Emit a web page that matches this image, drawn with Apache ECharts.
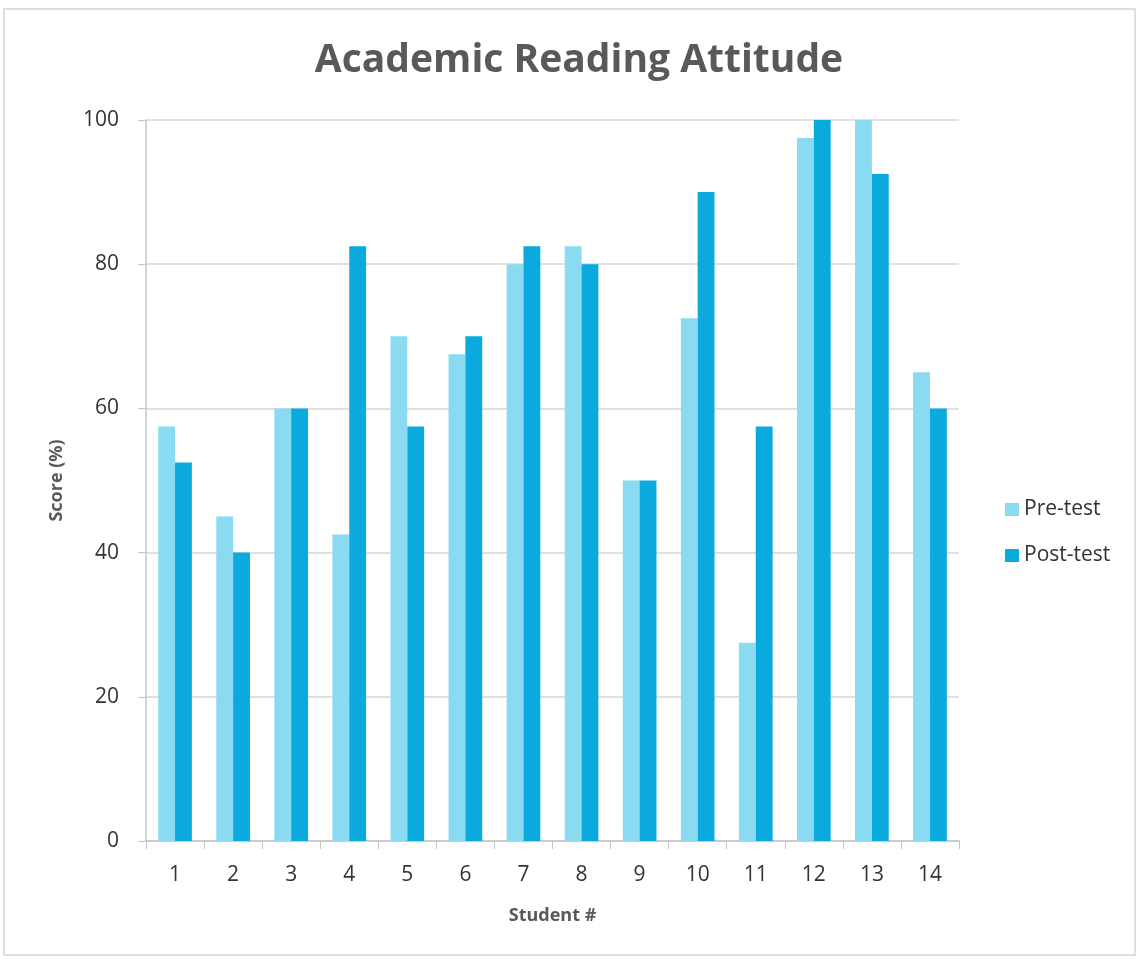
<!DOCTYPE html>
<html>
<head>
<meta charset="utf-8">
<script src="https://cdn.jsdelivr.net/npm/echarts@6/dist/echarts.min.js"></script>
<style>
  html, body { margin: 0; padding: 0; background: #fff; }
  #chart { width: 1139px; height: 961px; }
</style>
</head>
<body>
<div id="chart"></div>
<script>
// Student numbers along the x axis
const students = ['1','2','3','4','5','6','7','8','9','10','11','12','13','14'];
// Scores (%) before and after
const preTest  = [57.5, 45, 60, 42.5, 70, 67.5, 80, 82.5, 50, 72.5, 27.5, 97.5, 100, 65];
const postTest = [52.5, 40, 60, 82.5, 57.5, 70, 82.5, 80, 50, 90, 57.5, 100, 92.5, 60];

const font = '"Open Sans", "Noto Sans", sans-serif';

const chart = echarts.init(document.getElementById('chart'));
chart.setOption({
  backgroundColor: '#ffffff',
  animation: false,
  title: {
    text: 'Academic Reading Attitude',
    left: 574, top: 36, textAlign: 'center',
    textStyle: { fontFamily: font, fontSize: 39, fontWeight: 'bold', color: '#595959' }
  },
  legend: {
    orient: 'vertical',
    left: 1000, top: 494,
    itemWidth: 14, itemHeight: 13, itemGap: 25,
    icon: 'rect',
    textStyle: { fontFamily: font, fontSize: 21, color: '#333333' },
    data: ['Pre-test', 'Post-test']
  },
  grid: { left: 146, right: 180, top: 120, bottom: 120, containLabel: false },
  xAxis: {
    type: 'category',
    data: students,
    name: 'Student #',
    nameLocation: 'middle',
    nameGap: 66,
    nameTextStyle: { fontFamily: font, fontSize: 18, fontWeight: 'bold', color: '#595959' },
    axisLine: { lineStyle: { color: '#c4c4c4', width: 1.5 } },
    axisTick: { show: true, length: 8, lineStyle: { color: '#c4c4c4' } },
    axisLabel: { fontFamily: font, fontSize: 21, color: '#333333', margin: 24 }
  },
  yAxis: {
    type: 'value',
    min: 0, max: 100, interval: 20,
    name: 'Score (%)',
    nameLocation: 'middle',
    nameGap: 80,
    nameTextStyle: { fontFamily: font, fontSize: 18, fontWeight: 'bold', color: '#595959' },
    axisLine: { show: true, lineStyle: { color: '#c4c4c4', width: 1.5 } },
    axisTick: { show: true, length: 8, lineStyle: { color: '#c4c4c4' } },
    axisLabel: { fontFamily: font, fontSize: 21, color: '#333333', margin: 27 },
    splitLine: { lineStyle: { color: '#d6d6d6', width: 1.5 } }
  },
  series: [
    {
      name: 'Pre-test', type: 'bar', data: preTest,
      barGap: '0%', barCategoryGap: '42%',
      itemStyle: { color: '#8adaf1' }
    },
    {
      name: 'Post-test', type: 'bar', data: postTest,
      itemStyle: { color: '#0aa9de' }
    }
  ],
  graphic: [
    {
      type: 'rect',
      shape: { x: 4, y: 9, width: 1131, height: 946 },
      style: { fill: 'none', stroke: '#d4d4d4', lineWidth: 1.5 },
      silent: true
    }
  ]
});
</script>
</body>
</html>
